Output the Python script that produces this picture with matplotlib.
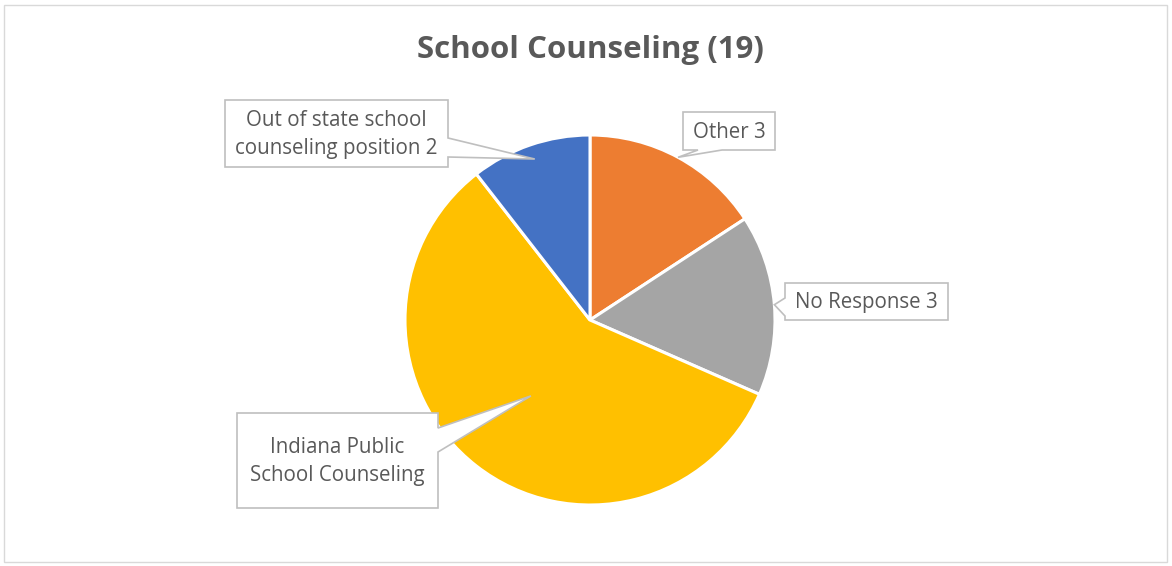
import numpy as np
import matplotlib
matplotlib.use("Agg")
import matplotlib.pyplot as plt
from matplotlib.patches import Polygon, Rectangle

W, H = 1172, 566

title = "School Counseling (19)"
labels = ["Other", "No Response", "Indiana Public\nSchool Counseling",
          "Out of state school\ncounseling position"]
values = [3, 3, 11, 2]
show_value = [True, True, False, True]
colors = ["#ED7D31", "#A5A5A5", "#FFC000", "#4472C4"]

TEXT = "#595959"
EDGE = "#BFBFBF"
FONT = "Open Sans"

# pie layout, pixels from top-left
CX, CY, R = 590, 320, 185

# callouts: box (x0, y0, x1, y1) in pixels from top, side of the pointer,
# pointer base span along that side, tip radius as fraction of R
callouts = [
    ((683, 112, 775, 150), "bottom", (698, 722), 1.0),
    ((785, 283, 948, 320), "left", (298, 316), 1.0),
    ((237, 413, 438, 508), "right", (428, 452), 0.52),
    ((225, 100, 448, 167), "right", (138, 157), 0.92),
]


def callout_points(box, side, base, tip):
    x0, y0, x1, y1 = box
    b0, b1 = base
    if side == "right":
        pts = [(x0, y0), (x1, y0), (x1, b0), None, (x1, b1), (x1, y1), (x0, y1)]
    elif side == "bottom":
        pts = [(x0, y0), (x1, y0), (x1, y1), (b1, y1), None, (b0, y1), (x0, y1)]
    else:
        pts = [(x0, y0), (x1, y0), (x1, y1), (x0, y1), (x0, b1), None, (x0, b0)]
    return [tip if p is None else (p[0], H - p[1]) for p in pts]


fig = plt.figure(figsize=(W / 100, H / 100), dpi=100)
ax = fig.add_axes([0, 0, 1, 1])

ax.add_patch(Rectangle((4, 4), W - 9, H - 9, facecolor="white",
                       edgecolor="#D9D9D9", linewidth=1.0, zorder=0))

wedges, _ = ax.pie(values, colors=colors, startangle=90, counterclock=False,
                   center=(CX, H - CY), radius=R, frame=True,
                   wedgeprops=dict(edgecolor="white", linewidth=2.2))
ax.set_xlim(0, W)
ax.set_ylim(0, H)
ax.set_aspect("equal")
ax.axis("off")

for w, lab, v, sv, (box, side, base, frac) in zip(wedges, labels, values,
                                                  show_value, callouts):
    mid = np.deg2rad((w.theta1 + w.theta2) / 2)
    tip = (CX + frac * R * np.cos(mid), H - CY + frac * R * np.sin(mid))
    pts = callout_points(box, side, base, tip)
    ax.add_patch(Polygon(pts, closed=True, facecolor="white", edgecolor=EDGE,
                         linewidth=1.2, zorder=5, joinstyle="miter"))
    txt = f"{lab} {v}" if sv else lab
    x0, y0, x1, y1 = box
    ax.text((x0 + x1) / 2, H - (y0 + y1) / 2 - 1, txt, ha="center", va="center",
            fontsize=14.8, color=TEXT, family=FONT, linespacing=1.4, zorder=6)

ax.text(W / 2 + 4, H - 50, title, ha="center", va="center", fontsize=22.5,
        fontweight="bold", color=TEXT, family=FONT)

fig.savefig("out.png", dpi=100)
